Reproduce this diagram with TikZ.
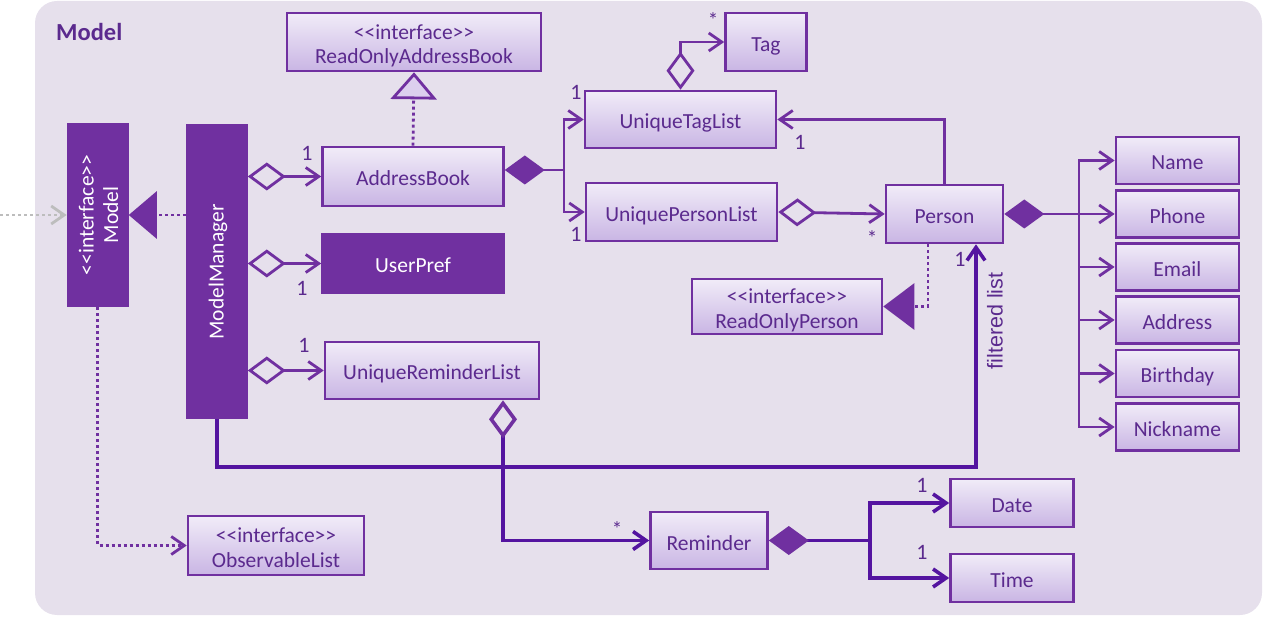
\documentclass[tikz,border=0pt]{standalone}
\usepackage{fontspec}
\setmainfont{Carlito}
\newfontfamily\labelsans{Liberation Sans}
\usetikzlibrary{arrows.meta}

\definecolor{panel}{HTML}{E6E0EC}
\definecolor{umlline}{HTML}{7030A0}
\definecolor{umldark}{HTML}{5414A0}
\definecolor{umltext}{HTML}{5B2A8E}
\definecolor{boxtop}{HTML}{F1ECF8}
\definecolor{boxbot}{HTML}{C9B5E4}
\definecolor{trifill}{HTML}{DCCFEE}
\definecolor{ghost}{HTML}{BDBDBD}

\newcommand{\stereo}{<{}<interface>{}>}

\tikzset{
  x=1pt, y=-1pt,
  boxfont/.style={font=\fontsize{21.5}{24.5}\selectfont},
  cls/.style={draw=umlline, line width=2.6pt, top color=boxtop, bottom color=boxbot,
              text=umltext, boxfont, align=center, inner sep=0pt,
              text height=19pt, text depth=0pt},
  solidcls/.style={draw=umlline, line width=2.6pt, fill=umlline, text=white,
                   boxfont, align=center, inner sep=0pt,
                   text height=19pt, text depth=0pt},
  twoline/.style={text height=43.5pt, text depth=0pt},
  vlabel/.style={text=white, boxfont, align=center, rotate=90, inner sep=0pt},
  conn/.style={draw=umlline, line width=2.8pt},
  heavy/.style={draw=umldark, line width=3.6pt},
  dots/.style={dash pattern=on 3pt off 3pt},
  mult/.style={text=umltext, font=\fontsize{22}{24}\selectfont, inner sep=0pt},
  star/.style={text=umltext, font=\fontsize{21}{22}\selectfont, inner sep=0pt},
  obarb/.tip={Straight Barb[length=13pt,width=18pt]},
  hdia/.tip={Diamond[open,length=38pt,width=28pt]},
  fdia/.tip={Diamond[length=40pt,width=29pt]},
}

\begin{document}
\begin{tikzpicture}
\useasboundingbox (0,0) rectangle (1264,617);
\fill[panel] (35,1) [rounded corners=22pt] rectangle (1262,615);
\node[anchor=west, inner sep=0pt, text=umltext, font=\bfseries\fontsize{24.5}{26}\selectfont] (title) at (56,32) {Model};

% classes
\node[solidcls, minimum width=59.5pt, minimum height=182pt] (imodel) at (97.7,215) {};
\node[vlabel] (imodeltext) at (98.5,215) {\stereo\\Model};
\node[solidcls, minimum width=59pt, minimum height=293pt] (mm) at (217,271.5) {};
\node[vlabel] (mmtext) at (218,272) {ModelManager};
\node[cls, twoline, minimum width=254pt, minimum height=58pt] (roab) at (414,42) {\stereo\\ReadOnlyAddressBook};
\node[cls, minimum width=181pt, minimum height=59pt] (ab) at (413,176.5) {AddressBook};
\node[solidcls, minimum width=181pt, minimum height=59pt] (up) at (413,263.5) {UserPref};
\node[cls, minimum width=214pt, minimum height=57pt] (url) at (432,370.5) {UniqueReminderList};
\node[cls, twoline, minimum width=176pt, minimum height=59pt] (obs) at (276,545.5) {\stereo\\ObservableList};
\node[cls, minimum width=81pt, minimum height=58pt] (tag) at (766,42) {Tag};
\node[cls, minimum width=191pt, minimum height=57pt] (utl) at (680.5,119.5) {UniqueTagList};
\node[cls, minimum width=191pt, minimum height=58pt] (upl) at (681.5,212) {UniquePersonList};
\node[cls, minimum width=117pt, minimum height=58pt] (person) at (944.5,214) {Person};
\node[cls, twoline, minimum width=190pt, minimum height=55pt] (rop) at (787,306.5) {\stereo\\ReadOnlyPerson};
\node[cls, minimum width=123pt, minimum height=47pt] (name) at (1177.4,160.5) {Name};
\node[cls, minimum width=123pt, minimum height=47pt] (phone) at (1177.4,214) {Phone};
\node[cls, minimum width=123pt, minimum height=47pt] (email) at (1177.4,267) {Email};
\node[cls, minimum width=123pt, minimum height=47pt] (address) at (1177.4,320) {Address};
\node[cls, minimum width=123pt, minimum height=47pt] (birthday) at (1177.4,373.5) {Birthday};
\node[cls, minimum width=123pt, minimum height=47pt] (nickname) at (1177.4,427) {Nickname};
\node[cls, minimum width=117pt, minimum height=57pt] (rem) at (709,540.5) {Reminder};
\node[cls, minimum width=123pt, minimum height=48pt] (date) at (1012,503) {Date};
\node[cls, minimum width=123pt, minimum height=48pt] (time) at (1012,578) {Time};

% junction points
\coordinate (outside) at (0,215);
\coordinate (abfork) at (564,170);
\coordinate (pfork) at (1079,214);
\coordinate (rfork) at (870,540.5);
\coordinate (flcorner) at (976,467);

% model interface
\draw[ghost, line width=2.8pt, dots, -{obarb}] (outside) -- (imodel.west);
\draw[conn, dots, -{Triangle[length=28pt,width=47pt]}] (mm.west |- imodel.east) -- (imodel.east);
\draw[conn, dots, -{obarb}] (imodel.south) |- (obs.west);

% model manager aggregations
\draw[conn, {hdia}-{obarb}] (mm.east |- ab.west) -- (ab.west);
\draw[conn, {hdia}-{obarb}] (mm.east |- up.west) -- (up.west);
\draw[conn, {hdia}-{obarb}] (mm.east |- url.west) -- (url.west);
\draw[conn, dots, -{Triangle[length=27pt,width=46pt,fill=trifill]}] (ab.north) -- (roab.south);

% address book composition
\draw[conn, {fdia}-] (ab.east |- abfork) -- (abfork);
\draw[conn, -{obarb}] (abfork) |- (utl.west);
\draw[conn, -{obarb}] (abfork) |- (upl.west);
\draw[conn, {hdia}-{obarb}] (utl.north) |- (tag.west);
\draw[conn, {hdia}-{obarb}] (upl.east) -- (person.west);
\draw[conn, -{obarb}] (person.north) |- (utl.east);
\draw[conn, dots, -{Triangle[length=31pt,width=46pt]}] ([xshift=-16.5pt]person.south) |- (rop.east);

% person attributes
\draw[conn, {fdia}-] (person.east) -- (pfork);
\foreach \n in {name,phone,email,address,birthday,nickname}
  \draw[conn, -{obarb}] (pfork) |- (\n.west);

% filtered list
\draw[heavy, -{obarb}] (mm.south) |- (flcorner) -- (person.south -| flcorner);
\node[rotate=90, inner sep=0pt, text=umltext, font=\labelsans\fontsize{21.5}{24}\selectfont] (fltext) at (995,321) {filtered list};

% reminders
\draw[heavy, {Diamond[open,length=38pt,width=28pt,color=umlline]}-{obarb}] ([xshift=71pt]url.south) |- (rem.west);
\draw[heavy, {Diamond[length=40pt,width=29pt,color=umlline]}-] (rem.east) -- (rfork);
\draw[heavy, -{obarb}] (rfork) |- (date.west);
\draw[heavy, -{obarb}] (rfork) |- (time.west);

% multiplicities
\node[mult] (m1) at (307,153) {1};
\node[mult] (m2) at (302,288) {1};
\node[mult] (m3) at (304,345) {1};
\node[mult] (m4) at (576,92) {1};
\node[mult] (m5) at (576,234) {1};
\node[mult] (m6) at (800,142) {1};
\node[mult] (m7) at (960,259) {1};
\node[mult] (m8) at (922,485) {1};
\node[mult] (m9) at (922,552) {1};
\node[star] (s1) at (713,20) {*};
\node[star] (s2) at (872,238) {*};
\node[star] (s3) at (617,529) {*};
\end{tikzpicture}
\end{document}
